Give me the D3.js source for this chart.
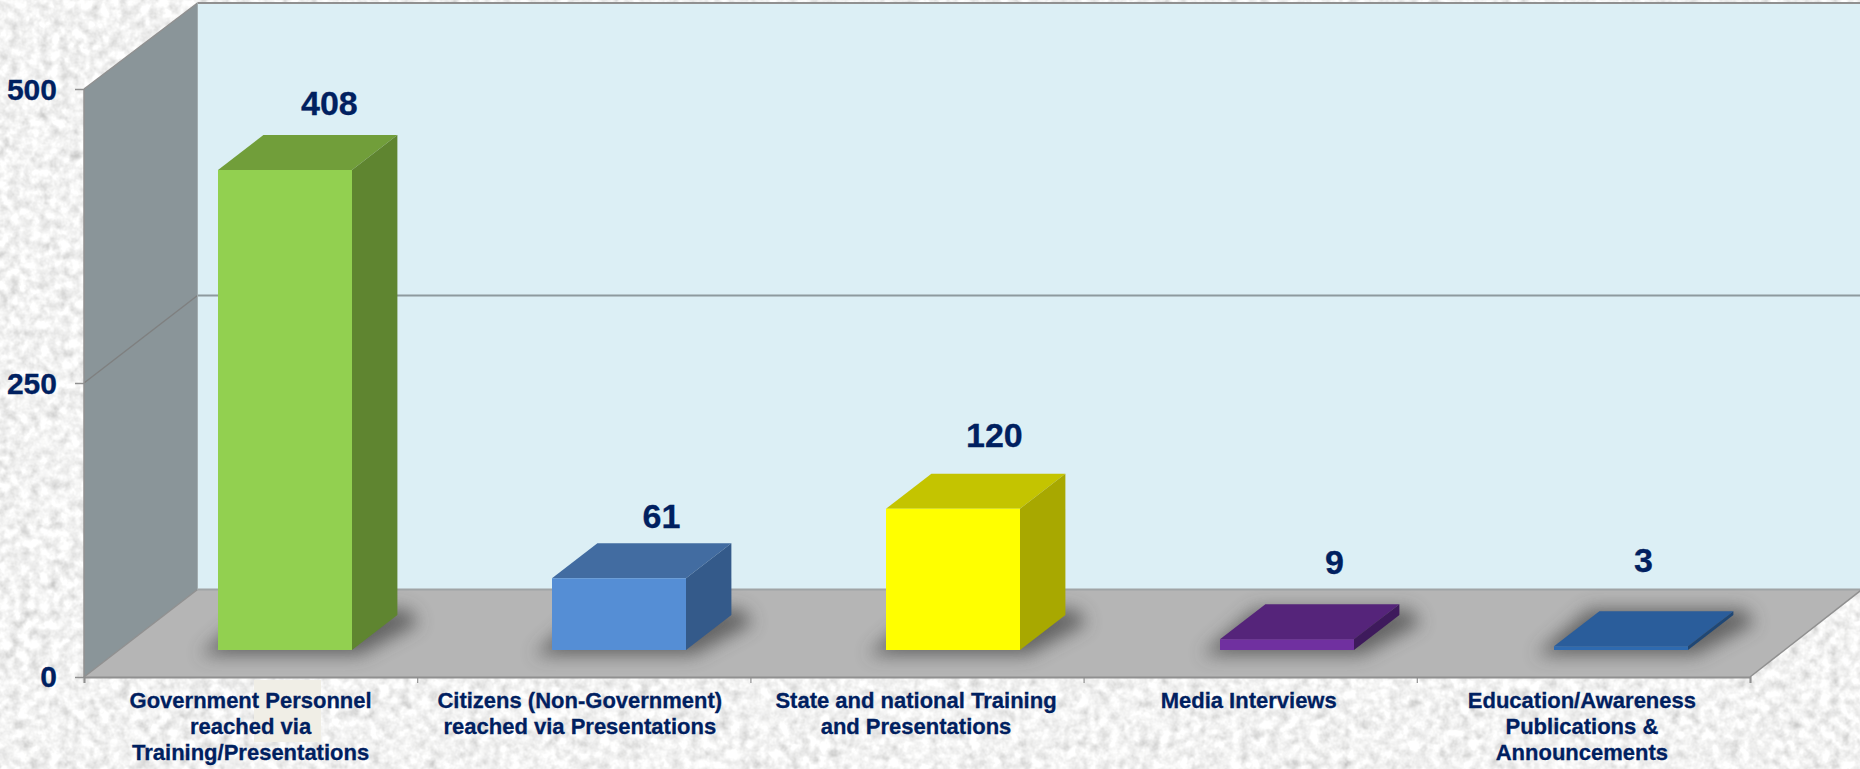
<!DOCTYPE html>
<html><head><meta charset="utf-8">
<script src="https://cdn.jsdelivr.net/npm/d3@7"></script>
<style>html,body{margin:0;padding:0;background:#e9e9e7;overflow:hidden}svg{display:block}
text{font-family:"Liberation Sans",Arial,sans-serif;font-weight:bold;fill:#002060;stroke:#002060;stroke-width:0.3px}</style>
</head><body><svg id="c" width="1860" height="769"></svg>
<script>
const categories = [
  ["Government Personnel","reached via","Training/Presentations"],
  ["Citizens (Non-Government)","reached via Presentations"],
  ["State and national Training","and Presentations"],
  ["Media Interviews"],
  ["Education/Awareness","Publications &","Announcements"]
];
const values = [408, 61, 120, 9, 3];
const yTicks = [0, 250, 500];
const frontColors = ["#92d050","#558ed5","#ffff00","#7030a0","#2e6ab0"];
const topColors   = ["#719e3a","#426ca1","#c4c400","#55247a","#2a5d9b"];
const sideColors  = ["#5f8530","#345a8a","#a8a800","#3e1a5c","#1f4775"];

// layout constants
const X0 = 84, X1 = 1750, Y0 = 677, Y500 = 89, DX = 113.5, DY = 87.5;
const barInsetDepth = 0.31, barDepth = 0.4, barW = 134;
const labelNudge = [[-1,-20],[-3,-15],[-4,-27],[2,-30],[-23,-39]];
const catNudge = [0,-4,-1,-1.5,-1.5];

const svg = d3.select("#c");
const defs = svg.append("defs");
const f = defs.append("filter").attr("id","granite").attr("x",0).attr("y",0).attr("width","100%").attr("height","100%");
f.append("feTurbulence").attr("type","fractalNoise").attr("baseFrequency",0.1).attr("numOctaves",3).attr("seed",7);
f.append("feColorMatrix").attr("type","matrix").attr("values",
  "0.45 0.45 0 0 0.44  0.45 0.45 0 0 0.44  0.45 0.45 0 0 0.435  0 0 0 0 1");
f.append("feGaussianBlur").attr("stdDeviation",0.7);
defs.append("filter").attr("id","blur").attr("x","-40%").attr("y","-60%").attr("width","180%").attr("height","220%")
  .append("feGaussianBlur").attr("stdDeviation",9);

svg.append("rect").attr("width",1860).attr("height",769).attr("filter","url(#granite)");
svg.append("rect").attr("x",254).attr("y",680).attr("width",67).attr("height",62).attr("fill","#f0eee6");

const y = d3.scaleLinear().domain([0,500]).range([Y0,Y500]);
const xEdge = d3.scaleLinear().domain([0,categories.length]).range([X0,X1]);
const xBand = d3.scaleBand().domain(d3.range(categories.length)).range([X0,X1]);
const xBar = d3.scaleLinear().domain([0,categories.length-1]).range([218,1554]);
const poly = pts => "M" + pts.map(p=>p.join(",")).join("L") + "Z";

// walls
const wallTop = y(500)-DY+1.5;
svg.append("path").attr("d",poly([[X0+DX,wallTop],[1860,wallTop],[1860,Y0-DY],[X0+DX,Y0-DY]])).attr("fill","#dceff5");
svg.append("path").attr("d",poly([[X0,Y500],[X0+DX,wallTop],[X0+DX,Y0-DY],[X0,Y0]])).attr("fill","#8a9599");
svg.append("path").attr("d",poly([[X0,Y0],[X0+DX,Y0-DY],[1862,Y0-DY],[X1,Y0]])).attr("fill","#b5b5b5");

// edges and gridlines
const edge = "#909090";
const line = (a,b,w=1.5,c=edge)=>svg.append("line").attr("x1",a[0]).attr("y1",a[1]).attr("x2",b[0]).attr("y2",b[1]).attr("stroke",c).attr("stroke-width",w);
line([X0,y(500)],[X0+DX,wallTop]); line([X0+DX,wallTop],[1860,wallTop],2);
line([X0,y(250)],[X0+DX,y(250)-DY],1.5,"#7f8080"); line([X0+DX,y(250)-DY],[1860,y(250)-DY],2,"#8e9a9e");
line([X0+DX,Y0-DY],[1860,Y0-DY],2,"#a0a4a5"); line([X0,Y0],[X0+DX,Y0-DY]);
line([X1,Y0],[1862,Y0-DY]); line([X0,Y500],[X0,Y0]); line([X0+DX,wallTop],[X0+DX,Y0-DY],1,"#a3adb0");

// shadows
values.forEach((v,i)=>{
  const L=xBar(i), R=L+barW, B=Y0-DY*barInsetDepth, dx=DX*barDepth, dy=DY*barDepth;
  svg.append("path").attr("d",poly([[L-18,B+5],[R+8,B+5],[R+dx+22,B-dy+8],[R+dx+10,B-dy-6],[L+dx-10,B-dy-6]]))
    .attr("fill","#444").attr("opacity",0.72).attr("filter","url(#blur)");
});

// bars
values.forEach((v,i)=>{
  const L=xBar(i), R=L+barW, B=Y0-DY*barInsetDepth, H=Y0-y(v), T=B-H, dx=DX*barDepth, dy=DY*barDepth;
  svg.append("path").attr("d",poly([[L,T],[R,T],[R+dx,T-dy],[L+dx,T-dy]])).attr("fill",topColors[i]);
  svg.append("path").attr("d",poly([[R,T],[R+dx,T-dy],[R+dx,B-dy],[R,B]])).attr("fill",sideColors[i]);
  svg.append("path").attr("d",poly([[L,T],[R,T],[R,B],[L,B]])).attr("fill",frontColors[i]);
  svg.append("text").attr("text-anchor","middle")
    .attr("x",L+barW/2+dx+labelNudge[i][0]).attr("y",T-dy+labelNudge[i][1])
    .attr("font-size",34).text(v);
});

// y axis
const gy = svg.append("g").attr("transform",`translate(${X0},0)`)
  .call(d3.axisLeft(y).tickValues(yTicks).tickSize(9).tickPadding(18).tickFormat(d3.format("d")));
gy.select(".domain").remove();
gy.selectAll("line").attr("stroke",edge).attr("stroke-width",1.5);
gy.selectAll("text").attr("font-size",30).attr("y",0).attr("dy",d=>d===0?"0.3em":"0.36em")
  .style("font-family",'"Liberation Sans",Arial,sans-serif').style("fill","#002060");

// x axis
const gx = svg.append("g").attr("transform",`translate(0,${Y0})`)
  .call(d3.axisBottom(xEdge).tickValues(d3.range(categories.length+1)).tickSize(6).tickFormat(""));
gx.select(".domain").attr("stroke",edge).attr("stroke-width",2);
gx.selectAll("line").attr("stroke",edge).attr("stroke-width",1.2);

// category labels
categories.forEach((lines,i)=>{
  const t = svg.append("text").attr("text-anchor","middle").attr("font-size",22);
  lines.forEach((s,k)=>t.append("tspan").attr("x",xBand(i)+xBand.bandwidth()/2+catNudge[i]).attr("y",708+k*26).text(s));
});
</script></body></html>
